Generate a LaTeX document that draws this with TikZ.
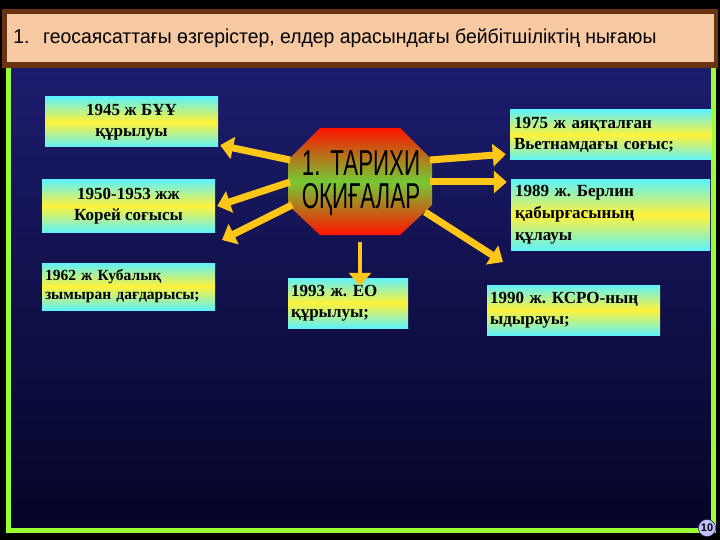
\documentclass[tikz,border=0pt]{standalone}
\usepackage{fontspec}
\setmainfont{Liberation Serif}
\newfontfamily\arialf{Liberation Sans}
\usetikzlibrary{arrows.meta,shadings}
\frenchspacing
\definecolor{peach}{HTML}{F7C9A2}
\definecolor{brownb}{HTML}{6B3410}
\definecolor{navyT}{HTML}{1C1C6E}
\definecolor{navyB}{HTML}{050528}
\definecolor{lime}{HTML}{99FF33}
\definecolor{arr}{HTML}{FFC61A}
\definecolor{cyanb}{HTML}{5FF2F8}
\definecolor{yelb}{HTML}{FFF23A}
\tikzset{
  evbox/.style={draw=none,top color=cyanb,bottom color=cyanb,middle color=yelb,
     inner sep=3pt,font=\bfseries\fontsize{17}{21}\selectfont,text=black},
  yarrow/.style={draw=arr,line width=7pt,-{Triangle[length=13pt,width=22pt]}}
}
\begin{document}
\begin{tikzpicture}[x=1pt,y=-1pt]
\useasboundingbox (0,0) rectangle (720,540);
\fill[black] (0,0) rectangle (720,540);
% panel
\shade[top color=navyT,bottom color=navyB] (8,65) rectangle (713,530);
\draw[lime,line width=5pt] (8,66) -- (8,530) -- (713,530) -- (713,66);
% title bar
\fill[brownb] (2,9) rectangle (718,68);
\fill[peach] (7,14) rectangle (714,62);
\node[anchor=west,font=\arialf\fontsize{20}{24}\selectfont,xscale=0.97] (title) at (10,38)
  {1.\hspace{14pt}геосаясаттағы өзгерістер, елдер арасындағы бейбітшіліктің нығаюы};
% boxes
\node[evbox,minimum width=173,minimum height=50,align=center] (a) at (131.5,122) {1945 ж БҰҰ\\құрылуы};
\node[evbox,minimum width=173,minimum height=52,align=center] (b) at (128.5,206) {1950-1953 жж\\Корей соғысы};
\node[evbox,minimum width=173,minimum height=47,align=left,text width=167,font=\bfseries\fontsize{15.5}{19}\selectfont] (c) at (128.5,286.5) {1962 ж Кубалық\\зымыран дағдарысы;};
\node[evbox,minimum width=202,minimum height=50,align=left,text width=194] (d) at (611,135) {1975 ж аяқталған\\Вьетнамдағы соғыс;};
\node[evbox,minimum width=199,minimum height=70,align=left,text width=191,font=\bfseries\fontsize{17}{22}\selectfont] (e) at (610.5,215) {1989 ж. Берлин\\қабырғасының\\құлауы};
\node[evbox,minimum width=173,minimum height=50,align=left,text width=167] (f) at (573.5,310) {1990 ж. КСРО-ның\\ыдырауы;};
\node[evbox,minimum width=120,minimum height=50,align=left,text width=114] (g) at (348,303) {1993 ж. ЕО\\құрылуы;};
% octagon
\shade[top color=red!85!orange,bottom color=red!85!orange,middle color=green!45!gray!75!yellow]
  (320,128) -- (400,128) -- (432,160) -- (432,205) -- (400,235) -- (320,235) -- (288,205) -- (288,160) -- cycle;
\node[font=\arialf\fontsize{36}{33}\selectfont,align=center,xscale=0.62] (o) at (361,183) {1.\ \,ТАРИХИ\\ОҚИҒАЛАР};
\coordinate (oa) at (290,160);
\coordinate (ob) at (290,182);
\coordinate (oc) at (292,205);
\coordinate (od) at (430,160);
\coordinate (oe) at (430,182);
\coordinate (of) at (425,212);
\coordinate (og) at (360,242);
\draw[yarrow] (oa) -- ([xshift=2pt,yshift=2pt]a.south east);
\draw[yarrow] (ob) -- ([xshift=2pt]b.east);
\draw[yarrow] (oc) -- (222,240);
\draw[yarrow] (od) -- ([xshift=-4pt,yshift=6pt]d.south west);
\draw[yarrow] (oe) -- ([xshift=-4pt]e.west |- oe);
\draw[yarrow] (of) -- (503,262);
\draw[yarrow,line width=4pt] (og) -- ([yshift=-8pt]g.north -| og);
% page number
\node[circle,fill=blue!25!white,draw=navyB,inner sep=1pt,font=\arialf\bfseries\fontsize{11}{11}\selectfont] (pn) at (707,528) {10};
\end{tikzpicture}
\end{document}
